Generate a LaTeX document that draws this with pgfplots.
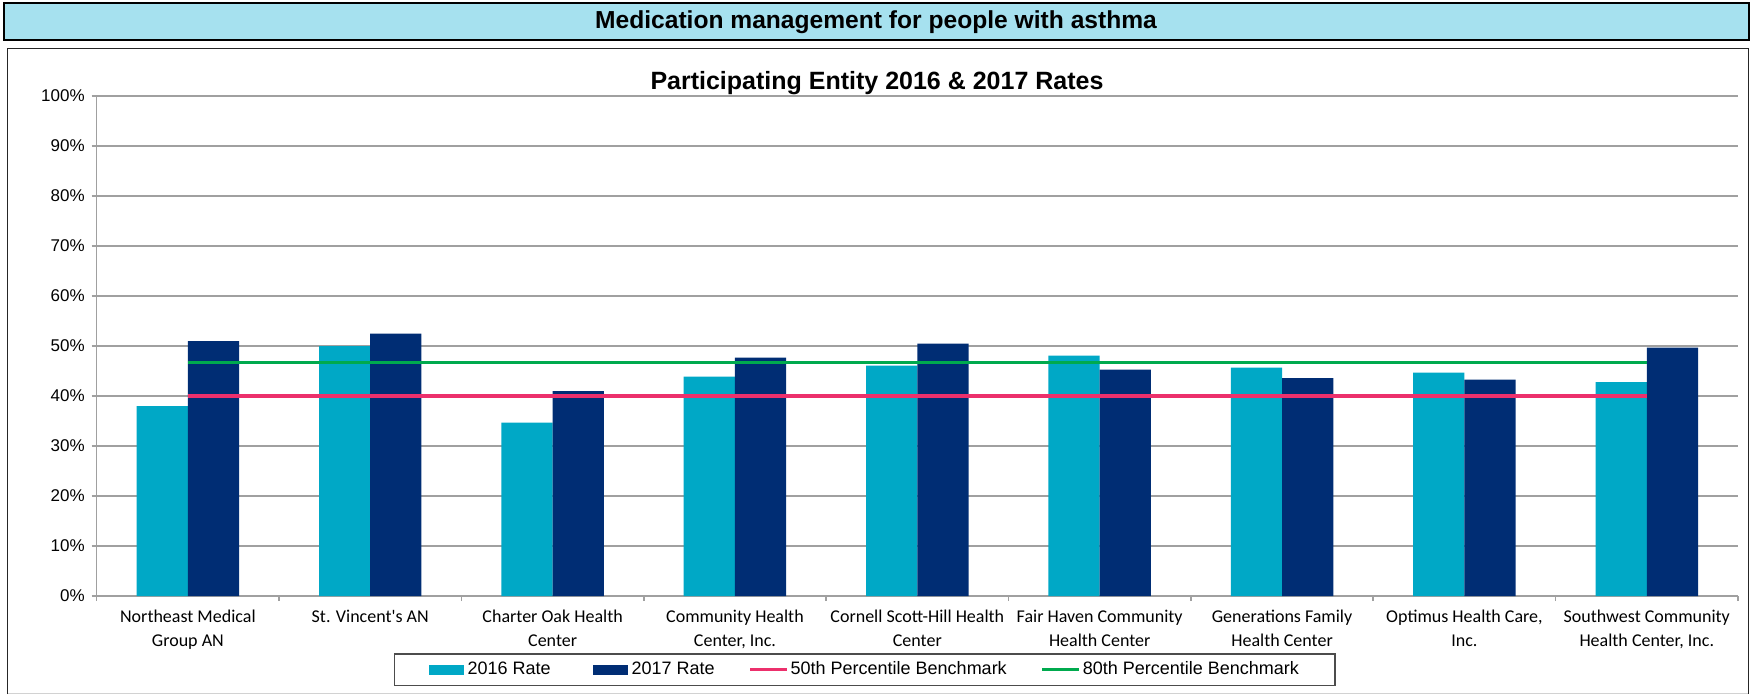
\documentclass[border=0pt]{standalone}
\usepackage{pgfplots}
\pgfplotsset{compat=1.18}
\usepackage{fontspec}
\setmainfont{Liberation Sans}
\newfontfamily\calibri{Carlito}
\definecolor{banner}{RGB}{166,225,239}
\definecolor{c16}{RGB}{0,168,198}
\definecolor{c17}{RGB}{0,45,116}
\definecolor{pinkb}{RGB}{236,48,108}
\definecolor{greenb}{RGB}{0,170,78}
\definecolor{gridc}{RGB}{160,160,160}
\begin{document}
\begin{tikzpicture}
\begin{scope}[x=0.5pt,y=-0.5pt]
\path[use as bounding box] (0,0) rectangle (1752,695);
\draw[fill=banner, line width=1pt] (3.5,3.5) rectangle (1748.5,40.5);
\node[font=\fontsize{12.3}{14}\selectfont\bfseries] at (876,22.5) {Medication management for people with asthma};
\draw[gray!35, line width=0.8pt] (7.5,693.5) -- (1748.5,693.5);
\draw[line width=0.9pt, draw=black!85] (7.5,694) -- (7.5,48.5) -- (1748.5,48.5) -- (1748.5,694);
\node[font=\fontsize{12.5}{14}\selectfont\bfseries] at (877,83) {Participating Entity 2016 \& 2017 Rates};
\end{scope}
\begin{axis}[
  at={(48.35pt,-298pt)}, anchor=south west,
  width=820.65pt, height=250pt, scale only axis,
  xmin=-0.5, xmax=8.5, ymin=0, ymax=100,
  axis x line*=bottom, axis y line*=left,
  axis line style={draw=gridc, line width=0.8pt},
  tick style={draw=gridc, line width=0.8pt},
  tick align=outside, major tick length=2.5pt,
  ytick={0,10,...,100},
  yticklabels={0\%,10\%,20\%,30\%,40\%,50\%,60\%,70\%,80\%,90\%,100\%},
  yticklabel style={font=\fontsize{8.5}{10}\selectfont},
  ymajorgrids, grid style={draw=gridc, line width=0.8pt},
  xtick={-0.5,0.5,1.5,2.5,3.5,4.5,5.5,6.5,7.5,8.5}, xticklabels={,,,,,,,,,,},
  extra x ticks={0,1,2,3,4,5,6,7,8},
  extra x tick style={major tick length=0pt, grid=none},
  extra x tick labels={{Northeast Medical\\Group AN},{St. Vincent's AN},{Charter Oak Health\\Center},{Community Health\\Center, Inc.},{Cornell Scott-Hill Health\\Center},{Fair Haven Community\\Health Center},{Generations Family\\Health Center},{Optimus Health Care,\\Inc.},{Southwest Community\\Health Center, Inc.}},
  xticklabel style={font=\calibri\fontsize{9}{12.2}\selectfont, align=center, anchor=north, yshift=-3.5pt},
  legend columns=4,
  legend style={at={(0.1811,-0.1146)}, anchor=north west, draw=black!70, line width=0.6pt,
    font=\fontsize{9}{10}\selectfont, inner xsep=17pt, inner ysep=0pt,
    /tikz/column 2/.style={column sep=19pt},
    /tikz/column 4/.style={column sep=15pt},
    /tikz/column 6/.style={column sep=16pt},
    nodes={inner xsep=2pt, inner ysep=3.6pt, text height=6.5pt, text depth=2pt}},
]
\addplot[ybar, bar width=0.281, bar shift=-0.1405, fill=c16, draw=none,
  legend image code/.code={\fill[c16] (0pt,-2.5pt) rectangle (17.5pt,2.5pt);}]
  coordinates {(0,38.0) (1,50.0) (2,34.7) (3,43.9) (4,46.1) (5,48.1) (6,45.7) (7,44.7) (8,42.8)};
\addlegendentry{2016 Rate}
\addplot[ybar, bar width=0.281, bar shift=0.1405, fill=c17, draw=none,
  legend image code/.code={\fill[c17] (0pt,-2.5pt) rectangle (17.5pt,2.5pt);}]
  coordinates {(0,51.0) (1,52.5) (2,41.0) (3,47.7) (4,50.5) (5,45.3) (6,43.6) (7,43.3) (8,49.7)};
\addlegendentry{2017 Rate}
\addplot[pinkb, line width=1.8pt, mark=none,
  legend image code/.code={\draw[pinkb, line width=1.5pt] (0pt,0pt) -- (18.5pt,0pt);}]
  coordinates {(0,40.0) (8,40.0)};
\addlegendentry[inner xsep=1pt]{50th Percentile Benchmark}
\addplot[greenb, line width=1.8pt, mark=none,
  legend image code/.code={\draw[greenb, line width=1.5pt] (0pt,0pt) -- (18.5pt,0pt);}]
  coordinates {(0,46.7) (8,46.7)};
\addlegendentry[inner xsep=1pt]{80th Percentile Benchmark}
\end{axis}
\end{tikzpicture}
\end{document}
